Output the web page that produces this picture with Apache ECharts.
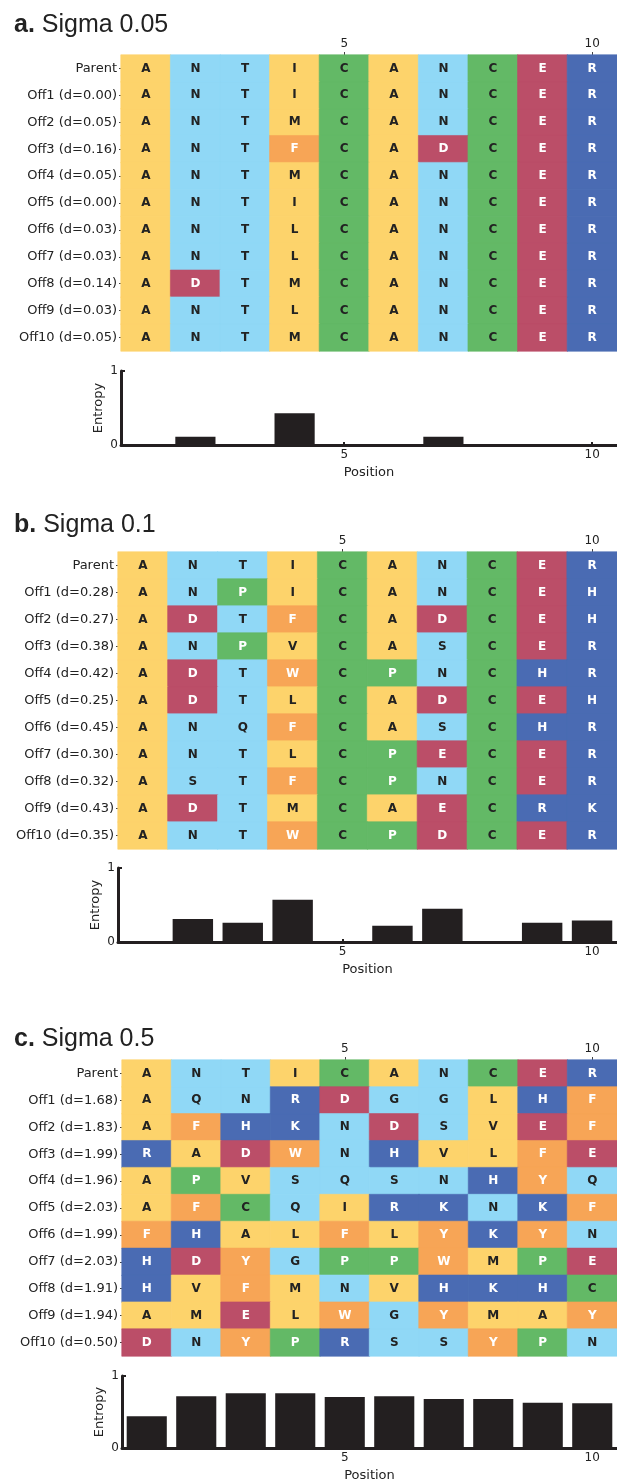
<!DOCTYPE html>
<html>
<head>
<meta charset="utf-8">
<script src="https://cdn.jsdelivr.net/npm/echarts@6/dist/echarts.min.js"></script>
<style>
html,body{margin:0;padding:0;background:#fff;}
#chart{width:617px;height:1483px;}
</style>
</head>
<body>
<div id="chart"></div>
<script>
// ---------- DATA ----------
const positions = ['1','2','3','4','5','6','7','8','9','10'];

const titlesPrefix = ['a.', 'b.', 'c.'];
const titlesText = ['Sigma 0.05', 'Sigma 0.1', 'Sigma 0.5'];

const rowLabelsA = ['Parent','Off1 (d=0.00)','Off2 (d=0.05)','Off3 (d=0.16)','Off4 (d=0.05)','Off5 (d=0.00)','Off6 (d=0.03)','Off7 (d=0.03)','Off8 (d=0.14)','Off9 (d=0.03)','Off10 (d=0.05)'];
const seqsA = ['ANTICANCER','ANTICANCER','ANTMCANCER','ANTFCADCER','ANTMCANCER','ANTICANCER','ANTLCANCER','ANTLCANCER','ADTMCANCER','ANTLCANCER','ANTMCANCER'];
const entropyA = [0, 0.11, 0, 0.43, 0, 0, 0.11, 0, 0, 0];

const rowLabelsB = ['Parent','Off1 (d=0.28)','Off2 (d=0.27)','Off3 (d=0.38)','Off4 (d=0.42)','Off5 (d=0.25)','Off6 (d=0.45)','Off7 (d=0.30)','Off8 (d=0.32)','Off9 (d=0.43)','Off10 (d=0.35)'];
const seqsB = ['ANTICANCER','ANPICANCEH','ADTFCADCEH','ANPVCASCER','ADTWCPNCHR','ADTLCADCEH','ANQFCASCHR','ANTLCPECER','ASTFCPNCER','ADTMCAECRK','ANTWCPDCER'];
const entropyB = [0, 0.31, 0.26, 0.57, 0, 0.22, 0.45, 0, 0.26, 0.29];

const rowLabelsC = ['Parent','Off1 (d=1.68)','Off2 (d=1.83)','Off3 (d=1.99)','Off4 (d=1.96)','Off5 (d=2.03)','Off6 (d=1.99)','Off7 (d=2.03)','Off8 (d=1.91)','Off9 (d=1.94)','Off10 (d=0.50)'];
const seqsC = ['ANTICANCER','AQNRDGGLHF','AFHKNDSVEF','RADWNHVLFE','APVSQSNHYQ','AFCQIRKNKF','FHALFLYKYN','HDYGPPWMPE','HVFMNVHKHC','AMELWGYMAY','DNYPRSSYPN'];
const entropyC = [0.44, 0.72, 0.76, 0.76, 0.71, 0.72, 0.68, 0.68, 0.63, 0.62];

// ---------- STYLE ----------
const groupColors = {
  hydrophobic: '#fdd36b', polar: '#90d8f6', special: '#63b966',
  aromatic: '#f7a556', acidic: '#bb4e68', basic: '#4a6bb3'
};
const letterGroup = {
  A:'hydrophobic', I:'hydrophobic', L:'hydrophobic', M:'hydrophobic', V:'hydrophobic',
  N:'polar', T:'polar', S:'polar', Q:'polar', G:'polar',
  C:'special', P:'special',
  F:'aromatic', W:'aromatic', Y:'aromatic',
  D:'acidic', E:'acidic',
  R:'basic', H:'basic', K:'basic'
};
const whiteText = new Set(['D','E','R','H','K','F','W','Y','P']);

const FONT = 'DejaVu Sans';
const INK = '#231f20';

const layouts = [
  { title: 6, hm: { left: 121, top: 55, width: 497, height: 296 }, en: { left: 121, top: 371, width: 497, height: 74 } },
  { title: 506, hm: { left: 118, top: 552, width: 499, height: 297 }, en: { left: 118, top: 868, width: 499, height: 74 } },
  { title: 1020, hm: { left: 122, top: 1060, width: 497, height: 296 }, en: { left: 122, top: 1376, width: 497, height: 73 } }
];

const panels = [
  { rows: rowLabelsA, seqs: seqsA, ent: entropyA },
  { rows: rowLabelsB, seqs: seqsB, ent: entropyB },
  { rows: rowLabelsC, seqs: seqsC, ent: entropyC }
];

const showTick = (i) => i === 4 || i === 9;

const option = { animation: false, title: [], grid: [], xAxis: [], yAxis: [], series: [] };

panels.forEach((p, k) => {
  const L = layouts[k];
  option.title.push({
    text: '{b|' + titlesPrefix[k] + '} ' + titlesText[k],
    left: 9, top: L.title,
    textStyle: {
      fontFamily: 'Liberation Sans', fontSize: 25, fontWeight: 'normal', color: '#222', lineHeight: 28,
      rich: { b: { fontFamily: 'Liberation Sans', fontSize: 25, fontWeight: 'bold', color: '#222', lineHeight: 28 } }
    }
  });
  const gH = option.grid.length;
  option.grid.push(Object.assign({ containLabel: false }, L.hm));
  const gE = option.grid.length;
  option.grid.push(Object.assign({ containLabel: false }, L.en));

  // heatmap axes
  const xH = option.xAxis.length;
  option.xAxis.push({
    type: 'category', data: positions, gridIndex: gH, position: 'top',
    axisLine: { show: false },
    axisTick: { show: true, alignWithLabel: true, interval: showTick, length: 3, lineStyle: { color: '#444' } },
    axisLabel: { interval: showTick, margin: 5, fontFamily: FONT, fontSize: 12, color: '#222' },
    splitLine: { show: false }
  });
  const yH = option.yAxis.length;
  option.yAxis.push({
    type: 'category', data: p.rows, gridIndex: gH, inverse: true,
    axisLine: { show: false },
    axisTick: { show: true, alignWithLabel: true, length: 2, lineStyle: { color: '#444' } },
    axisLabel: { margin: 4, fontFamily: FONT, fontSize: 13, color: '#222' },
    splitLine: { show: false }
  });

  const cells = [];
  p.seqs.forEach((s, r) => {
    s.split('').forEach((ch, c) => {
      const col = groupColors[letterGroup[ch]];
      cells.push({
        name: ch,
        value: [c, r, 1],
        itemStyle: { color: col, borderColor: col, borderWidth: 0.6 },
        label: { color: whiteText.has(ch) ? '#ffffff' : '#222222' }
      });
    });
  });
  option.series.push({
    type: 'heatmap', xAxisIndex: xH, yAxisIndex: yH, data: cells,
    label: { show: true, formatter: (d) => d.name, fontFamily: FONT, fontWeight: 'bold', fontSize: 12 },
    emphasis: { disabled: true }
  });

  // entropy axes
  const xE = option.xAxis.length;
  option.xAxis.push({
    type: 'category', data: positions, gridIndex: gE, position: 'bottom',
    name: 'Position', nameLocation: 'middle', nameGap: 21,
    nameTextStyle: { fontFamily: FONT, fontSize: 13, color: '#222' },
    axisLine: { show: true, lineStyle: { color: INK, width: 3 } },
    axisTick: { show: true, inside: true, alignWithLabel: true, interval: showTick, length: 3, lineStyle: { color: INK, width: 2 } },
    axisLabel: { interval: showTick, margin: 4, fontFamily: FONT, fontSize: 12, color: '#222' },
    splitLine: { show: false }
  });
  const yE = option.yAxis.length;
  option.yAxis.push({
    type: 'value', gridIndex: gE, min: 0, max: 1, interval: 1,
    name: 'Entropy', nameLocation: 'middle', nameGap: 16, nameMoveOverlap: false,
    nameTextStyle: { fontFamily: FONT, fontSize: 13, color: '#222' },
    axisLine: { show: true, lineStyle: { color: INK, width: 3 } },
    axisTick: { show: true, inside: true, length: 4, lineStyle: { color: INK, width: 2 } },
    axisLabel: { margin: 3, fontFamily: FONT, fontSize: 12, color: '#222' },
    splitLine: { show: false }
  });
  option.series.push({
    type: 'bar', xAxisIndex: xE, yAxisIndex: yE, data: p.ent,
    barCategoryGap: '19%',
    itemStyle: { color: INK, borderWidth: 0 },
    emphasis: { disabled: true }
  });
});

const chart = echarts.init(document.getElementById('chart'), null, { renderer: 'canvas' });
chart.setOption(option);
</script>
</body>
</html>
